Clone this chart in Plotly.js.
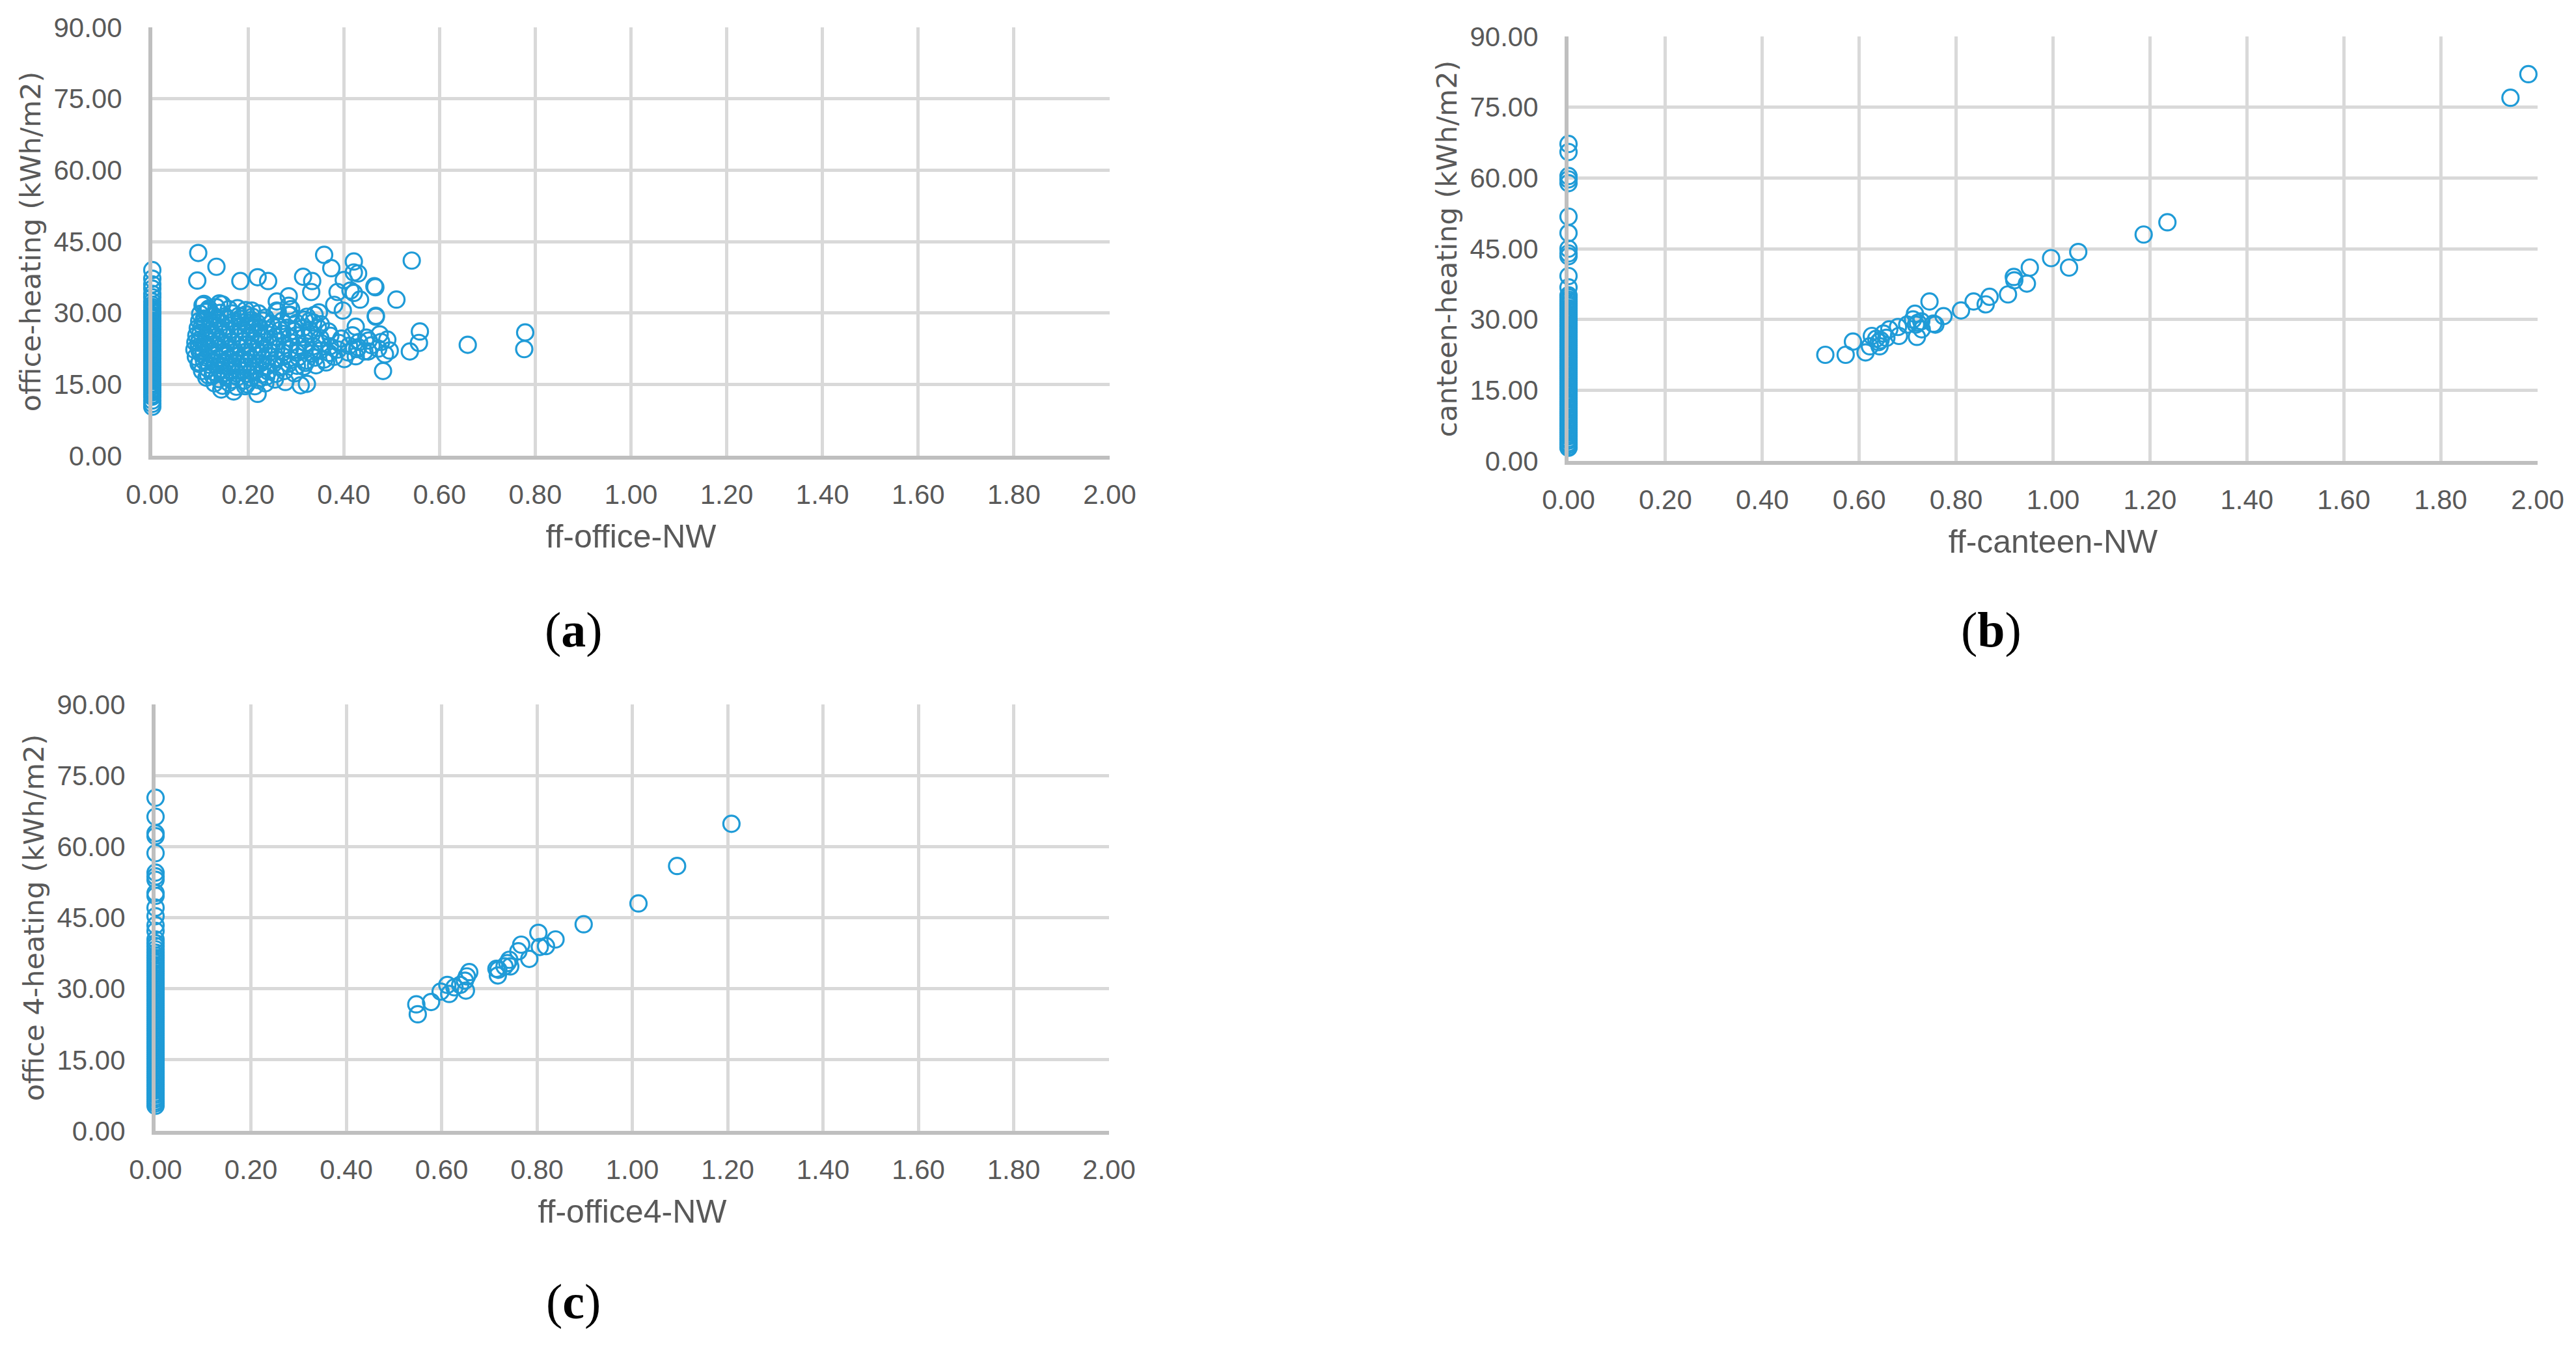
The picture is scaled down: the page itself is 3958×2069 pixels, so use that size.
<!DOCTYPE html>
<html>
<head>
<meta charset="utf-8">
<script src="https://cdn.plot.ly/plotly-3.0.1.min.js"></script>
<style>
  html, body { margin: 0; padding: 0; background: #fff; }
  #chart { width: 3958px; height: 2069px; }
</style>
</head>
<body>
<div id="chart"></div>
<script>
// (a) office: points sitting on x = 0
const officeZeroY = [39.0, 37.2, 36.0, 35.1, 34.0, 33.3, 32.4, 31.7, 31.2, 30.8, 30.4, 30.1, 29.6, 29.3, 28.9,
  28.4, 28.1, 27.7, 27.2, 26.9, 26.5, 26.0, 25.7, 25.3, 24.8, 24.5, 24.1, 23.6, 23.3, 22.9, 22.4, 22.1, 21.7,
  21.2, 20.9, 20.5, 20.0, 19.7, 19.3, 18.8, 18.5, 18.1, 17.6, 17.3, 16.9, 16.4, 16.1, 15.7, 15.2, 14.9, 14.5,
  14.0, 13.7, 13.3, 12.8, 12.4, 11.6, 10.9, 10.3]

// (a) office: the cloud, row by row (x and y lines match)
const officeX = [
  0.105, 0.118, 0.134, 0.146, 0.160, 0.178, 0.195,
  0.100, 0.112, 0.127, 0.141, 0.152, 0.167, 0.181, 0.196, 0.209, 0.222, 0.236, 0.262, 0.288, 0.290,
  0.098, 0.108, 0.121, 0.133, 0.144, 0.156, 0.170, 0.183, 0.194, 0.207, 0.219, 0.231, 0.248, 0.271, 0.301, 0.318, 0.336, 0.352,
  0.095, 0.104, 0.117, 0.129, 0.139, 0.151, 0.163, 0.176, 0.188, 0.199, 0.212, 0.224, 0.238, 0.253, 0.267, 0.283, 0.297, 0.314, 0.329, 0.346, 0.368,
  0.092, 0.101, 0.112, 0.124, 0.135, 0.147, 0.158, 0.171, 0.183, 0.195, 0.206, 0.218, 0.231, 0.244, 0.257, 0.272, 0.286, 0.301, 0.317, 0.333, 0.351, 0.372, 0.395, 0.418, 0.447,
  0.090, 0.099, 0.109, 0.120, 0.131, 0.142, 0.154, 0.165, 0.177, 0.189, 0.200, 0.212, 0.224, 0.236, 0.249, 0.262, 0.276, 0.290, 0.305, 0.320, 0.336, 0.353, 0.371, 0.390, 0.411, 0.432, 0.458, 0.478,
  0.088, 0.097, 0.107, 0.118, 0.129, 0.140, 0.151, 0.162, 0.174, 0.186, 0.197, 0.209, 0.221, 0.233, 0.246, 0.259, 0.273, 0.287, 0.302, 0.318, 0.334, 0.351, 0.369, 0.388, 0.409, 0.428, 0.451, 0.472, 0.496,
  0.091, 0.102, 0.113, 0.124, 0.136, 0.147, 0.159, 0.171, 0.183, 0.195, 0.207, 0.219, 0.232, 0.245, 0.259, 0.274, 0.289, 0.305, 0.322, 0.340, 0.359, 0.380, 0.401, 0.425,
  0.097, 0.108, 0.119, 0.131, 0.142, 0.154, 0.166, 0.178, 0.190, 0.202, 0.214, 0.227, 0.240, 0.254, 0.269, 0.285, 0.302, 0.320, 0.342, 0.363,
  0.104, 0.116, 0.128, 0.140, 0.152, 0.164, 0.176, 0.189, 0.201, 0.214, 0.228, 0.242, 0.258, 0.276, 0.297,
  0.113, 0.126, 0.139, 0.152, 0.165, 0.178, 0.192, 0.206, 0.221, 0.238, 0.256,
  0.130, 0.147, 0.160, 0.176, 0.197, 0.214, 0.236,
  0.096, 0.134, 0.094, 0.184, 0.220, 0.242, 0.359, 0.374, 0.315, 0.334, 0.332, 0.421, 0.400, 0.387, 0.380,
  0.421, 0.414, 0.398, 0.108, 0.140, 0.115, 0.108, 0.208, 0.260, 0.285, 0.285, 0.260, 0.285, 0.323, 0.339,
  0.348, 0.328, 0.220, 0.170, 0.144, 0.278, 0.310, 0.323, 0.316, 0.194, 0.117, 0.099, 0.097, 0.099,
  0.542, 0.430, 0.464, 0.466, 0.421, 0.434, 0.510, 0.467, 0.467, 0.425, 0.559, 0.557, 0.538, 0.491, 0.475,
  0.486, 0.482, 0.443, 0.452, 0.430, 0.659, 0.779, 0.777
]
const officeY = [
  31.6, 30.9, 31.2, 31.8, 30.8, 31.0, 30.6,
  29.8, 30.2, 29.5, 30.0, 29.3, 29.9, 29.4, 29.7, 29.2, 29.9, 29.0, 30.3, 29.6, 30.8,
  28.3, 28.8, 28.1, 28.6, 28.0, 28.7, 28.2, 28.8, 28.1, 28.5, 27.9, 28.4, 27.8, 28.3, 27.9, 28.6, 28.0, 27.6,
  26.8, 27.3, 26.6, 27.2, 26.5, 27.0, 26.4, 27.1, 26.6, 27.3, 26.7, 27.0, 26.5, 27.1, 26.4, 26.9, 26.2, 26.8, 26.3, 26.9, 26.1,
  25.3, 25.9, 25.1, 25.7, 25.0, 25.6, 24.9, 25.5, 25.0, 25.8, 25.1, 25.6, 24.9, 25.4, 25.0, 25.6, 24.8, 25.3, 24.9, 25.5, 24.7, 25.2, 24.6, 25.3, 24.8,
  23.8, 24.4, 23.6, 24.2, 23.5, 24.1, 23.4, 24.0, 23.3, 24.1, 23.5, 24.2, 23.4, 23.9, 23.3, 24.0, 23.2, 23.8, 23.1, 23.7, 23.0, 23.6, 23.0, 23.7, 23.1, 23.9, 23.2, 23.9,
  22.3, 22.9, 22.1, 22.7, 22.0, 22.6, 21.9, 22.5, 21.8, 22.6, 21.9, 22.7, 22.0, 22.5, 21.8, 22.4, 21.7, 22.3, 21.6, 22.2, 21.5, 22.1, 21.6, 22.3, 21.7, 22.4, 21.9, 22.5, 22.1,
  20.8, 21.4, 20.6, 21.2, 20.5, 21.1, 20.4, 21.0, 20.3, 21.1, 20.4, 21.0, 20.3, 20.9, 20.2, 20.8, 20.1, 20.7, 20.0, 20.6, 20.2, 20.8, 20.3, 20.9,
  19.3, 19.9, 19.1, 19.7, 19.0, 19.6, 18.9, 19.5, 18.8, 19.6, 18.9, 19.5, 18.8, 19.4, 18.7, 19.3, 18.9, 19.5, 19.0, 19.6,
  17.8, 18.3, 17.6, 18.1, 17.4, 18.0, 17.3, 17.9, 17.2, 17.8, 17.1, 17.7, 17.2, 17.8, 17.3,
  16.4, 16.9, 16.1, 16.7, 15.9, 16.5, 15.8, 16.4, 15.9, 16.6, 16.0,
  15.2, 14.7, 15.3, 14.5, 15.0, 14.6, 15.2,
  42.6, 39.7, 36.8, 36.7, 37.5, 36.7, 42.2, 39.4, 37.6, 36.7, 34.4, 40.8, 36.9, 34.4, 31.7,
  38.5, 34.7, 30.5, 31.9, 32.0, 30.5, 28.3, 30.5, 32.4, 33.5, 31.5, 30.5, 29.6, 29.2, 29.6,
  30.1, 28.3, 13.0, 13.5, 13.9, 15.5, 14.8, 15.1, 18.7, 14.6, 16.9, 19.6, 23.7, 21.9,
  41.0, 38.3, 35.6, 35.4, 34.2, 32.8, 32.8, 29.4, 29.2, 27.1, 26.1, 23.7, 21.9, 24.4, 25.5,
  21.3, 17.8, 21.9, 24.2, 22.8, 23.3, 25.9, 22.4
]

// (b) canteen
const canteenZeroY = [67.2, 65.5, 60.4, 59.7, 58.9, 51.8, 48.3, 45.0, 44.0, 43.4, 39.2, 36.8, 35.1, 34.7, 34.2,
  33.8, 33.3, 32.9, 32.4, 32.0, 31.6, 31.1, 30.7, 30.2, 29.8, 29.4, 28.9, 28.5, 28.0, 27.6, 27.2, 26.7, 26.3,
  25.8, 25.4, 25.0, 24.5, 24.1, 23.6, 23.2, 22.8, 22.3, 21.9, 21.4, 21.0, 20.6, 20.1, 19.7, 19.2, 18.8, 18.4,
  17.9, 17.5, 17.0, 16.6, 16.2, 15.7, 15.3, 14.8, 14.4, 14.0, 13.5, 13.1, 12.6, 12.2, 11.8, 11.3, 10.9, 10.4,
  10.0, 9.6, 9.1, 8.7, 8.2, 7.8, 7.4, 6.9, 6.5, 6.0, 5.6, 5.2, 4.7, 4.3, 3.8, 3.4, 3.0, 2.8]
const canteenX = [0.530, 0.572, 0.587, 0.613, 0.626, 0.622, 0.640, 0.642, 0.650, 0.644, 0.656, 0.680, 0.682,
  0.699, 0.715, 0.717, 0.719, 0.729, 0.745, 0.753, 0.774, 0.810, 0.836, 0.861, 0.869, 0.907, 0.919, 0.920,
  0.946, 0.952, 0.996, 1.033, 1.052, 1.187, 1.236, 0.711, 0.721, 0.757, 0.635, 0.662, 0.728, 1.944, 1.981]
const canteenY = [22.5, 22.5, 25.3, 23.0, 26.5, 24.3, 25.2, 24.3, 27.0, 25.6, 26.1, 28.4, 26.5,
  28.9, 31.2, 28.9, 26.3, 27.9, 33.8, 29.1, 30.7, 31.9, 33.8, 33.2, 34.8, 35.3, 39.0, 38.3,
  37.6, 41.0, 43.0, 41.0, 44.3, 48.0, 50.6, 30.0, 29.3, 28.9, 25.9, 27.9, 29.6, 77.0, 82.0]

// (c) office 4
const office4ZeroY = [70.3, 66.3, 62.8, 62.2, 58.6, 54.5, 53.7, 53.0, 50.2, 49.6, 47.1, 45.3, 43.4, 42.2, 40.4,
  39.6, 39.0, 38.3, 37.6, 37.0, 36.5, 36.0, 35.5, 35.0, 34.6, 34.1, 33.7, 33.2, 32.8, 32.3, 31.9, 31.4, 31.0,
  30.5, 30.1, 29.6, 29.2, 28.7, 28.3, 27.8, 27.4, 26.9, 26.5, 26.0, 25.6, 25.1, 24.7, 24.2, 23.8, 23.3, 22.9,
  22.4, 22.0, 21.5, 21.1, 20.6, 20.2, 19.7, 19.3, 18.8, 18.4, 17.9, 17.5, 17.0, 16.6, 16.1, 15.7, 15.2, 14.8,
  14.3, 13.9, 13.4, 13.0, 12.5, 12.1, 11.6, 11.2, 10.7, 10.3, 9.8, 9.4, 8.9, 8.5, 8.0, 7.6, 7.1, 6.7, 6.2, 5.8, 5.3]
const office4X = [0.547, 0.550, 0.578, 0.598, 0.612, 0.616, 0.627, 0.639, 0.649, 0.651, 0.653, 0.658, 0.715,
  0.718, 0.732, 0.742, 0.744, 0.761, 0.767, 0.784, 0.803, 0.806, 0.819, 0.839, 0.898, 1.013, 1.094, 1.208, 0.738, 0.719]
const office4Y = [26.7, 24.6, 27.2, 29.4, 30.8, 28.9, 30.3, 30.8, 31.7, 29.6, 32.6, 33.5, 34.2,
  32.8, 34.7, 36.1, 34.7, 37.9, 39.3, 36.3, 41.8, 38.8, 39.0, 40.4, 43.6, 48.0, 55.9, 64.8, 35.4, 34.0]

const xTitles = ['ff-office-NW', 'ff-canteen-NW', 'ff-office4-NW']
const yTitles = ['office-heating (kWh/m2)', 'canteen-heating (kWh/m2)', 'office 4-heating (kWh/m2)']
const panelLabels = ['(<b>a</b>)', '(<b>b</b>)', '(<b>c</b>)']

const blue = '#1f9bd7'
const tickFont = {family: '"Liberation Sans Narrow", "Arial Narrow", sans-serif', size: 42, color: '#595959'}
const W = 3958, H = 2069

function series(xs, ys, ax) {
  return {
    x: xs, y: ys, type: 'scatter', mode: 'markers', cliponaxis: false,
    xaxis: 'x' + ax, yaxis: 'y' + ax, hoverinfo: 'skip',
    marker: {symbol: 'circle-open', size: 25, color: blue, line: {width: 3.2, color: blue}}
  }
}

// plot box of each panel in page pixels: left, right, top, bottom
const boxes = [[234, 1705, 42, 700], [2410, 3899, 56, 708], [239, 1704, 1082, 1737]]

function xAxis(i) {
  const b = boxes[i]
  return {
    domain: [b[0] / W, b[1] / W], anchor: 'y' + (i ? i + 1 : ''),
    range: [0, 2], dtick: 0.2, tick0: 0, tickformat: '.2f',
    showgrid: true, gridcolor: '#d9d9d9', gridwidth: 5, zeroline: false,
    showline: true, linecolor: '#bfbfbf', linewidth: 6,
    ticks: 'outside', ticklen: 18, tickcolor: 'rgba(0,0,0,0)',
    tickfont: tickFont, fixedrange: true,
    title: {text: xTitles[i], standoff: 26, font: {family: tickFont.family, size: 50, color: '#595959'}}
  }
}
function yAxis(i) {
  const b = boxes[i]
  return {
    domain: [1 - b[3] / H, 1 - b[2] / H], anchor: 'x' + (i ? i + 1 : ''),
    range: [0, 90], dtick: 15, tick0: 0, tickformat: '.2f',
    showgrid: true, gridcolor: '#d9d9d9', gridwidth: 5, zeroline: false,
    showline: true, linecolor: '#bfbfbf', linewidth: 6,
    ticks: 'outside', ticklen: 32, tickcolor: 'rgba(0,0,0,0)',
    tickfont: tickFont, fixedrange: true,
    title: {text: yTitles[i], standoff: 8, font: {family: '"DejaVu Sans", sans-serif', size: 43, color: '#595959'}}
  }
}

const data = [
  series(officeZeroY.map(() => 0), officeZeroY, ''),
  series(officeX, officeY, ''),
  series(canteenZeroY.map(() => 0), canteenZeroY, '2'),
  series(canteenX, canteenY, '2'),
  series(office4ZeroY.map(() => 0), office4ZeroY, '3'),
  series(office4X, office4Y, '3')
]

const labelPos = [[881, 967], [3059, 967], [881, 1999]]

const layout = {
  width: W, height: H,
  margin: {l: 0, r: 0, t: 0, b: 0},
  paper_bgcolor: '#ffffff', plot_bgcolor: '#ffffff',
  showlegend: false,
  xaxis: xAxis(0), yaxis: yAxis(0),
  xaxis2: xAxis(1), yaxis2: yAxis(1),
  xaxis3: xAxis(2), yaxis3: yAxis(2),
  annotations: labelPos.map((p, i) => ({
    text: panelLabels[i], xref: 'paper', yref: 'paper',
    x: p[0] / W, y: 1 - p[1] / H, xanchor: 'center', yanchor: 'middle',
    showarrow: false, font: {family: '"Liberation Serif", serif', size: 76, color: '#000000'}
  }))
}

Plotly.newPlot('chart', data, layout, {staticPlot: true})
</script>
</body>
</html>
